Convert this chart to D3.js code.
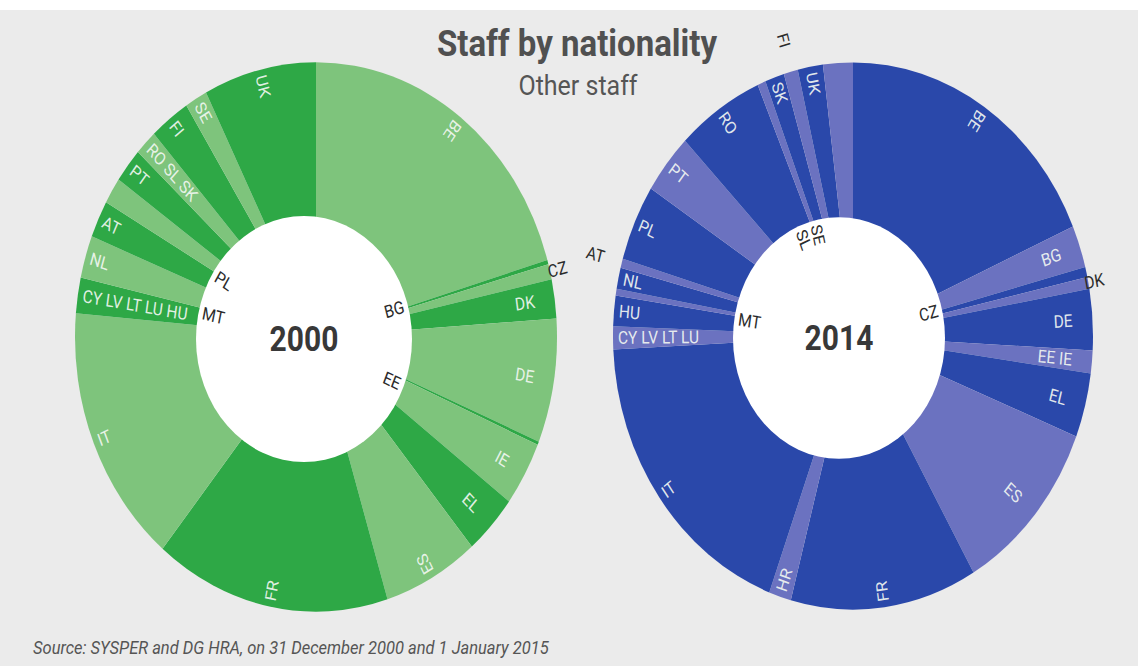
<!DOCTYPE html>
<html>
<head>
<meta charset="utf-8">
<script src="https://cdn.jsdelivr.net/npm/d3@7"></script>
<style>
  body { margin: 0; background: #fff; }
  svg { display: block; }
  text { font-family: Roboto, "Open Sans", "DejaVu Sans", sans-serif; }
</style>
</head>
<body>
<svg id="chart" width="1138" height="666"></svg>
<script>
// Share of "other staff" by nationality (% of total), EU protocol order
const countries2000 = ["BE","BG","CZ","DK","DE","EE","IE","EL","ES","FR","IT","CY","LV","LT","LU","HU","MT","NL","AT","PL","PT","RO","SL","SK","FI","SE","UK"];
const share2000     = [20.5, 0.25, 0.9, 2.3, 7.3, 0.2, 3.8, 3.6, 6.4, 15.8, 15.4, 0, 0, 0, 2.1, 0, 0, 2.5, 2.2, 1.55, 2.05, 1.5, 0, 0, 2.7, 1.5, 7.55];

const countries2014 = ["BE","BG","CZ","DK","DE","EE","IE","EL","ES","FR","HR","IT","CY","LV","LT","LU","HU","MT","NL","AT","PL","PT","RO","SL","SK","FI","SE","UK","Other"];
const share2014     = [18.45, 2.5, 0.6, 0.7, 3.6, 0, 1.35, 3.8, 10.65, 12.55, 1.5, 18.55, 0, 0, 0, 1.35, 1.8, 0.4, 1.25, 0.55, 4.5, 3.6, 5.85, 0.55, 1.3, 0.95, 0, 1.7, 2.0];

const years = ["2000", "2014"];

// Labels of neighbouring tiny slices written as one string
const labelGroups2000 = [["CY","LV","LT","LU","HU"], ["RO","SL","SK"]];
const labelGroups2014 = [["EE","IE"], ["CY","LV","LT","LU"]];
const unlabeled = ["Other"];

const W = 1138, H = 666;
const STRETCH = 1.14;   // vertical stretch of the whole graphic

const svg = d3.select("#chart");
svg.append("rect").attr("width", W).attr("height", H).attr("fill", "#ffffff");
svg.append("rect").attr("y", 10).attr("width", W).attr("height", H - 10).attr("fill", "#ebebeb");

const charts = [
  { year: years[0], codes: countries2000, values: share2000, groups: labelGroups2000,
    cx: 316, cy: 337, radius: 241, hole: { dx: -12, dy: 2, r: 108 },
    shades: ["#7ec47c", "#2ea846"],
    inside: ["BG", "EE", "PL", "MT"], outside: { CZ: -2 } },
  { year: years[1], codes: countries2014, values: share2014, groups: labelGroups2014,
    cx: 853, cy: 336, radius: 240, hole: { dx: -14, dy: 2, r: 106 },
    shades: ["#2a48aa", "#6b72c0"],
    inside: ["CZ", "MT", "SL", "SE"], outside: { DK: -4, AT: 18, FI: 22 } }
];

const pie = d3.pie().sort(null).value(d => d.value);

charts.forEach(c => {
  const rows = c.codes.map((code, i) => ({ code, value: c.values[i] }));
  const arcs = pie(rows);

  // alternate the two shades over the visible slices
  let k = 0;
  arcs.forEach(a => { a.fill = a.data.value > 0 ? c.shades[k++ % 2] : "none"; });

  const g = svg.append("g")
    .attr("transform", `translate(${c.cx},${c.cy}) scale(1,${STRETCH})`);

  const arc = d3.arc().innerRadius(0).outerRadius(c.radius);
  g.selectAll("path.slice")
    .data(arcs.filter(a => a.data.value > 0))
    .join("path")
    .attr("class", "slice")
    .attr("d", arc)
    .attr("fill", a => a.fill);

  const hx = c.hole.dx, hy = c.hole.dy / STRETCH;
  g.append("circle")
    .attr("cx", hx).attr("cy", hy).attr("r", c.hole.r)
    .attr("fill", "#ffffff");

  g.append("text")
    .attr("x", hx).attr("y", hy)
    .attr("text-anchor", "middle")
    .attr("dominant-baseline", "central")
    .attr("font-size", 30)
    .attr("font-weight", 700)
    .attr("fill", "#383838")
    .text(c.year);

  // label layout
  const byCode = new Map(arcs.map(a => [a.data.code, a]));
  const grouped = new Set(c.groups.flat());
  const labels = c.groups.map(grp => ({
    text: grp.join(" "),
    a0: byCode.get(grp[0]).startAngle,
    a1: byCode.get(grp[grp.length - 1]).endAngle,
    mode: "ring"
  }));
  arcs.forEach(a => {
    const code = a.data.code;
    if (grouped.has(code) || unlabeled.includes(code)) return;
    let mode = "ring";
    if (c.inside.includes(code)) mode = "inside";
    else if (code in c.outside) mode = "outside";
    labels.push({ text: code, a0: a.startAngle, a1: a.endAngle, mode, gap: c.outside[code] });
  });

  labels.forEach(l => {
    const a = (l.a0 + l.a1) / 2;
    const deg = a * 180 / Math.PI;
    const outward = deg >= 55 && deg <= 140;   // read from the centre outwards
    const rot = outward ? deg - 90 : deg + 90;
    let r, anchor, ox = 0, oy = 0;
    if (l.mode === "ring") {
      r = c.radius - (outward ? 20 : 5); anchor = outward ? "end" : "start";
    } else if (l.mode === "inside") {
      r = c.hole.r - 4; anchor = outward ? "end" : "start"; ox = hx; oy = hy;
    } else {
      r = c.radius + l.gap; anchor = outward ? "start" : "end";
    }
    const x = ox + r * Math.sin(a), y = oy - r * Math.cos(a);
    g.append("text")
      .attr("transform", `translate(${x},${y}) rotate(${rot})`)
      .attr("text-anchor", anchor)
      .attr("dominant-baseline", "central")
      .attr("font-size", 15.5)
      .attr("fill", l.mode === "ring" ? "#f2f7f2" : "#2b2b2b")
      .attr("fill-opacity", l.mode === "ring" ? 0.92 : 1)
      .text(l.text);
  });
});

// headings
svg.append("g").attr("transform", `translate(577,56) scale(1,${STRETCH})`)
  .append("text")
  .attr("text-anchor", "middle")
  .attr("font-size", 33).attr("font-weight", 700)
  .attr("fill", "#505050")
  .text("Staff by nationality");

svg.append("g").attr("transform", `translate(578,95) scale(1,${STRETCH})`)
  .append("text")
  .attr("text-anchor", "middle")
  .attr("font-size", 25)
  .attr("fill", "#555555")
  .text("Other staff");

svg.append("g").attr("transform", `translate(33,654) scale(1,${STRETCH})`)
  .append("text")
  .attr("font-size", 16.5).attr("font-style", "italic")
  .attr("fill", "#555555")
  .text("Source: SYSPER and DG HRA, on 31 December 2000 and 1 January 2015");
</script>
</body>
</html>
